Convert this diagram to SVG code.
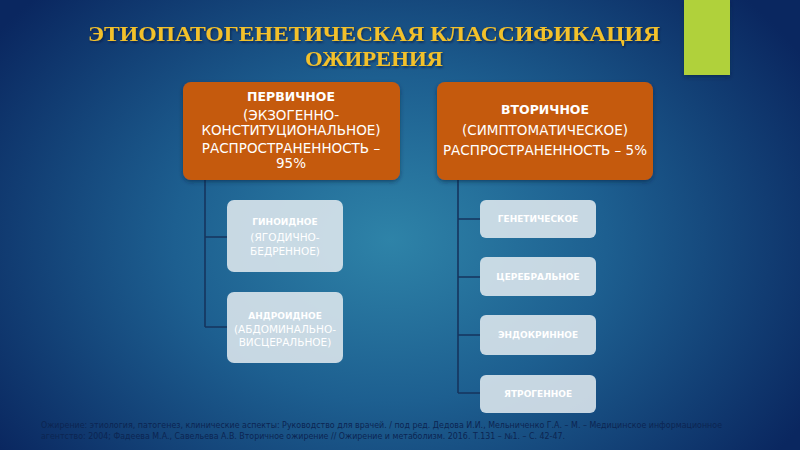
<svg xmlns="http://www.w3.org/2000/svg" width="800" height="450" viewBox="0 0 800 450">
<defs>
<radialGradient id="bg" cx="390" cy="240" r="480" gradientUnits="userSpaceOnUse" gradientTransform="translate(390 240) scale(1 0.75) translate(-390 -240)">
<stop offset="0" stop-color="#2e83a8"/>
<stop offset="0.45" stop-color="#1d5f90"/>
<stop offset="1" stop-color="#0a2760"/>
</radialGradient>
<filter id="sh" x="-10%" y="-10%" width="120%" height="130%">
<feDropShadow dx="0" dy="2" stdDeviation="2" flood-color="#061a3a" flood-opacity="0.5"/>
</filter>
<filter id="tsh" x="-5%" y="-20%" width="110%" height="150%">
<feDropShadow dx="1" dy="1.5" stdDeviation="1" flood-color="#051530" flood-opacity="0.6"/>
</filter>
</defs>
<style>
.title{font-family:"Liberation Serif",serif;font-weight:bold;font-size:22px;fill:#f3c12c;text-anchor:middle}
.orange{fill:#c55a11}
.ot{font-family:"DejaVu Sans","Liberation Sans",sans-serif;font-size:13.5px;fill:#ffffff;text-anchor:middle}
.ob{font-weight:bold;font-size:12.5px}
.light{fill:#dfe8ee;fill-opacity:0.88}
.lt{font-family:"DejaVu Sans","Liberation Sans",sans-serif;font-size:10.5px;fill:#ffffff;text-anchor:middle}
.lb{font-weight:bold;font-size:9px}
.conn{fill:none;stroke:#16355e;stroke-width:1.6}
.foot{font-family:"DejaVu Sans","Liberation Sans",sans-serif;font-size:8px;fill:#0c2552}
</style>
<rect width="800" height="450" fill="url(#bg)"/>
<rect x="684" y="0" width="46" height="75" fill="#b0d13a" filter="url(#sh)"/>
<g filter="url(#tsh)">
<text class="title" x="374" y="41" textLength="572" lengthAdjust="spacingAndGlyphs">ЭТИОПАТОГЕНЕТИЧЕСКАЯ КЛАССИФИКАЦИЯ</text>
<text class="title" x="374" y="66" textLength="138" lengthAdjust="spacingAndGlyphs">ОЖИРЕНИЯ</text>
</g>
<g id="connectors">
<path class="conn" d="M205 180 V327 M205 237 H227 M205 327 H227"/>
<path class="conn" d="M458 180 V393 M458 219 H480 M458 277 H480 M458 335 H480 M458 393 H480"/>
</g>
<g id="primary">
<rect class="orange" x="183" y="82" width="217" height="98" rx="8" filter="url(#sh)"/>
<text class="ot ob" x="291" y="101">ПЕРВИЧНОЕ</text>
<text class="ot" x="291" y="120">(ЭКЗОГЕННО-</text>
<text class="ot" x="291" y="135">КОНСТИТУЦИОНАЛЬНОЕ)</text>
<text class="ot" x="291" y="153">РАСПРОСТРАНЕННОСТЬ –</text>
<text class="ot" x="291" y="168">95%</text>
</g>
<g id="secondary">
<rect class="orange" x="437" y="82" width="216" height="98" rx="8" filter="url(#sh)"/>
<text class="ot ob" x="545" y="114">ВТОРИЧНОЕ</text>
<text class="ot" x="545" y="135">(СИМПТОМАТИЧЕСКОЕ)</text>
<text class="ot" x="545" y="155">РАСПРОСТРАНЕННОСТЬ – 5%</text>
</g>
<g id="gynoid">
<rect class="light" x="227" y="200" width="116" height="72" rx="7"/>
<text class="lt lb" x="285" y="225">ГИНОИДНОЕ</text>
<text class="lt" x="285" y="241">(ЯГОДИЧНО-</text>
<text class="lt" x="285" y="255">БЕДРЕННОЕ)</text>
</g>
<g id="android">
<rect class="light" x="227" y="292" width="116" height="71" rx="7"/>
<text class="lt lb" x="285" y="319">АНДРОИДНОЕ</text>
<text class="lt" x="285" y="333">(АБДОМИНАЛЬНО-</text>
<text class="lt" x="285" y="346">ВИСЦЕРАЛЬНОЕ)</text>
</g>
<g id="genetic">
<rect class="light" x="480" y="200" width="116" height="38" rx="6"/>
<text class="lt lb" x="538" y="222">ГЕНЕТИЧЕСКОЕ</text>
</g>
<g id="cerebral">
<rect class="light" x="480" y="257" width="116" height="39" rx="6"/>
<text class="lt lb" x="538" y="280">ЦЕРЕБРАЛЬНОЕ</text>
</g>
<g id="endocrine">
<rect class="light" x="480" y="315" width="116" height="40" rx="6"/>
<text class="lt lb" x="538" y="338">ЭНДОКРИННОЕ</text>
</g>
<g id="iatrogenic">
<rect class="light" x="480" y="375" width="116" height="38" rx="6"/>
<text class="lt lb" x="538" y="397">ЯТРОГЕННОЕ</text>
</g>
<text class="foot" x="41" y="428" textLength="681" lengthAdjust="spacingAndGlyphs">Ожирение: этиология, патогенез, клинические аспекты: Руководство для врачей. / под ред. Дедова И.И., Мельниченко Г.А. – М. – Медицинское информационное</text>
<text class="foot" x="41" y="439" textLength="524" lengthAdjust="spacingAndGlyphs">агентство: 2004; Фадеева М.А., Савельева А.В. Вторичное ожирение // Ожирение и метаболизм. 2016. Т.131 –  №1. – С. 42-47.</text>
</svg>
